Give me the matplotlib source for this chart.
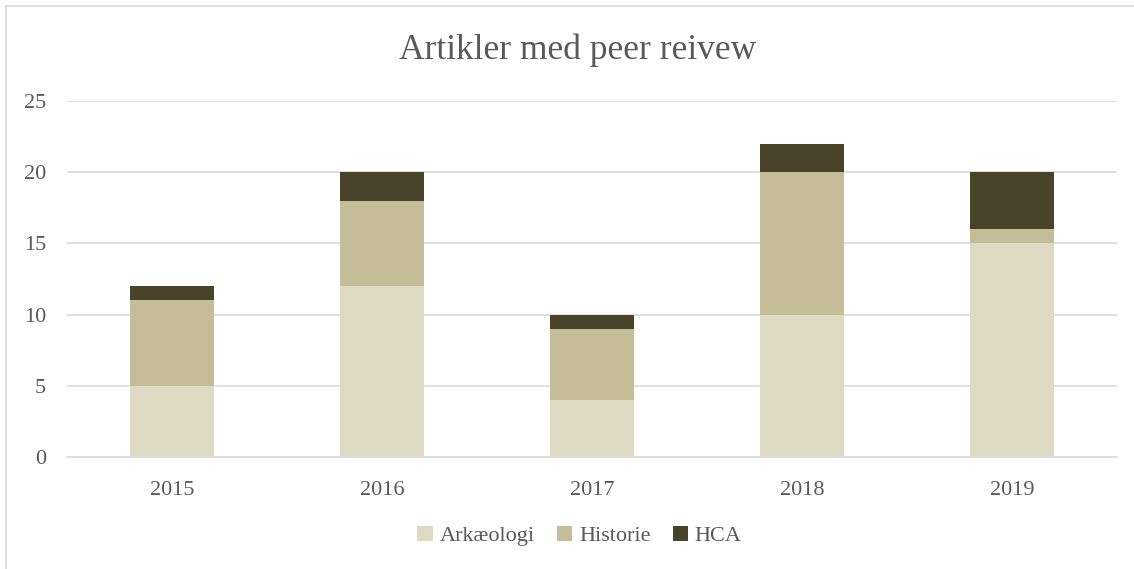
import matplotlib.pyplot as plt
from matplotlib.patches import Rectangle

years = ["2015", "2016", "2017", "2018", "2019"]
arkaeologi = [5, 12, 4, 10, 15]
historie = [6, 6, 5, 10, 1]
hca = [1, 2, 1, 2, 4]

plt.rcParams['font.family'] = ['Liberation Serif', 'DejaVu Serif']
text_color = "#595959"

fig = plt.figure(figsize=(11.34, 5.69), dpi=100)
ax = fig.add_axes([0.0591, 0.1968, 0.9259, 0.6257])

x = range(len(years))
width = 0.4
bottom2 = [a + h for a, h in zip(arkaeologi, historie)]
ax.bar(x, arkaeologi, width, color="#DDD9C3", label="Arkæologi", zorder=2)
ax.bar(x, historie, width, bottom=arkaeologi, color="#C4BD97", label="Historie", zorder=2)
ax.bar(x, hca, width, bottom=bottom2, color="#494429", label="HCA", zorder=2)

ax.set_xlim(-0.5, 4.5)
ax.set_ylim(0, 25)
ax.set_yticks([0, 5, 10, 15, 20, 25])
ax.set_xticks(list(x))
ax.set_xticklabels(years)
ax.yaxis.grid(True, color="#D9D9D9", linewidth=1.2, zorder=0)
ax.set_axisbelow(True)
for side in ["top", "right", "left"]:
    ax.spines[side].set_visible(False)
ax.spines["bottom"].set_color("#D9D9D9")
ax.spines["bottom"].set_linewidth(1.2)
ax.tick_params(axis="both", length=0, labelsize=16, colors=text_color)
ax.tick_params(axis="y", pad=15)
ax.tick_params(axis="x", pad=17)

fig.suptitle("Artikler med peer reivew", fontsize=25.5, color=text_color, x=0.509, y=0.942)

leg = fig.legend(loc="center", bbox_to_anchor=(0.511, 0.058), ncol=3, frameon=False,
                 fontsize=16, handlelength=0.7, handleheight=0.7, handletextpad=0.3,
                 columnspacing=1.0)
for t in leg.get_texts():
    t.set_color(text_color)

fig.patches.append(Rectangle((6 / 1134, -0.05), 2, 1.05 - 6 / 569, transform=fig.transFigure,
                             fill=False, edgecolor="#D9D9D9", linewidth=1.2))

fig.savefig("out.png", dpi=100)
